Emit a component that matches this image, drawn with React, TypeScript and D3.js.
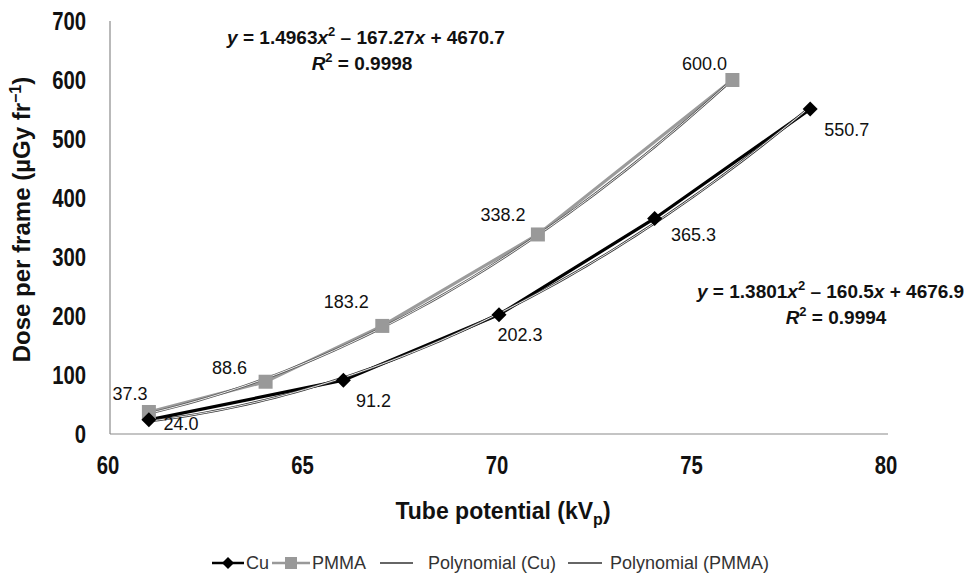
import React from 'react';
import * as d3 from 'd3';

// Tube potential (kVp) and dose per frame values
const cuKv = [61, 66, 70, 74, 78];
const cuDose = [24.0, 91.2, 202.3, 365.3, 550.7];
const pmmaKv = [61, 64, 67, 71, 76];
const pmmaDose = [37.3, 88.6, 183.2, 338.2, 600.0];

// second order fits shown on the chart: [a, b, c] for y = a x^2 + b x + c
const cuFit = [1.3801, -160.5, 4676.9];
const pmmaFit = [1.4963, -167.27, 4670.7];

const xTicks = [60, 65, 70, 75, 80];
const yTicks = [0, 100, 200, 300, 400, 500, 600, 700];

const W = 972;
const H = 576;
const margin = { top: 21, right: 84, bottom: 142, left: 110 };

const fitPoints = (coef: number[], kv: number[]) => {
  const lo = d3.min(kv) as number;
  const hi = d3.max(kv) as number;
  return d3.range(lo, hi + 0.001, 0.25).map((k) => [k, coef[0] * k * k + coef[1] * k + coef[2]]);
};

const App = () => {
  const x = d3.scaleLinear().domain([60, 80]).range([margin.left, W - margin.right]);
  const y = d3.scaleLinear().domain([0, 700]).range([H - margin.bottom, margin.top]);

  const line = d3.line<number[]>().x((d) => x(d[0])).y((d) => y(d[1]));

  const cu = cuKv.map((k, i) => [k, cuDose[i]]);
  const pmma = pmmaKv.map((k, i) => [k, pmmaDose[i]]);
  const cuTrend = fitPoints(cuFit, cuKv);
  const pmmaTrend = fitPoints(pmmaFit, pmmaKv);

  const font = "'Liberation Sans', Arial, sans-serif";

  // label offsets relative to each point
  const cuOff = [[32, 4], [30, 20], [21, 20], [39, 16], [14, 20]];
  const pmmaOff = [[-19, -18], [-36, -14], [-36, -24], [-35, -20], [-28, -16]];

  const diamond = (cx: number, cy: number, s = 7.5) =>
    `M${cx},${cy - s}L${cx + s},${cy}L${cx},${cy + s}L${cx - s},${cy}Z`;

  const y0 = y(0);
  const legY = 563;

  return (
    <svg width={W} height={H} style={{ position: 'absolute', left: 0, top: 0, background: '#fff' }}>
      {/* axes */}
      <line x1={x(60)} x2={x(60)} y1={y(700)} y2={y0} stroke="#8a8a8a" strokeWidth={1.2} />
      <line x1={x(60)} x2={x(80)} y1={y0} y2={y0} stroke="#8a8a8a" strokeWidth={1.2} />

      {/* tick labels, condensed bold */}
      <g fontFamily={font} fontWeight="bold" fontSize={26} fill="#111">
        {yTicks.map((t) => (
          <text key={t} transform={`translate(${x(60) - 24},${y(t)}) scale(0.78,1)`} dy="0.36em" textAnchor="end">{t}</text>
        ))}
        {xTicks.map((t) => (
          <text key={t} transform={`translate(${x(t) - 2},${y0 + 31}) scale(0.78,1)`} dy="0.36em" textAnchor="middle">{t}</text>
        ))}
      </g>

      {/* axis titles */}
      <text transform={`translate(30,${(y(700) + y0) / 2 - 8}) rotate(-90)`} textAnchor="middle"
        fontFamily={font} fontWeight="bold" fontSize={24} fill="#111">
        Dose per frame (µGy fr<tspan dy="-9" fontSize={16}>−1</tspan><tspan dy="9">)</tspan>
      </text>
      <text x={503} y={519} textAnchor="middle"
        fontFamily={font} fontWeight="bold" fontSize={23} fill="#111">
        Tube potential (kV<tspan dy="6" fontSize={16}>p</tspan><tspan dy="-6">)</tspan>
      </text>

      {/* data series */}
      <path d={line(pmma) as string} fill="none" stroke="#9b9b9b" strokeWidth={3.2} />
      <path d={line(cu) as string} fill="none" stroke="#000" strokeWidth={3.2} />

      {/* polynomial trendlines */}
      <path d={line(pmmaTrend) as string} fill="none" stroke="#555" strokeWidth={2.4} />
      <path d={line(pmmaTrend) as string} fill="none" stroke="#fff" strokeWidth={0.9} />
      <path d={line(cuTrend) as string} fill="none" stroke="#333" strokeWidth={2.4} />
      <path d={line(cuTrend) as string} fill="none" stroke="#fff" strokeWidth={0.9} />

      {pmma.map((d, i) => (
        <rect key={i} x={x(d[0]) - 7} y={y(d[1]) - 7} width={14} height={14} fill="#999" />
      ))}
      {cu.map((d, i) => (
        <path key={i} d={diamond(x(d[0]), y(d[1]))} fill="#000" />
      ))}

      {/* value labels */}
      {pmma.map((d, i) => (
        <text key={i} x={x(d[0]) + pmmaOff[i][0]} y={y(d[1]) + pmmaOff[i][1]} dy="0.36em" textAnchor="middle"
          fontFamily={font} fontSize={18} fill="#111">{d[1].toFixed(1)}</text>
      ))}
      {cu.map((d, i) => (
        <text key={i} x={x(d[0]) + cuOff[i][0]} y={y(d[1]) + cuOff[i][1]} dy="0.36em"
          textAnchor={i === 4 ? 'start' : 'middle'}
          fontFamily={font} fontSize={18} fill="#111">{d[1].toFixed(1)}</text>
      ))}

      {/* equations */}
      <g fontFamily={font} fontSize={19} fontWeight="bold" fill="#111">
        <text x={366} y={44} textAnchor="middle">
          <tspan fontStyle="italic">y</tspan> = 1.4963<tspan fontStyle="italic">x</tspan>
          <tspan dy="-8" fontSize={13}>2</tspan><tspan dy="8"> – 167.27</tspan>
          <tspan fontStyle="italic">x</tspan> + 4670.7
        </text>
        <text x={362} y={70} textAnchor="middle">
          <tspan fontStyle="italic">R</tspan><tspan dy="-8" fontSize={13}>2</tspan><tspan dy="8"> = 0.9998</tspan>
        </text>
        <text x={697} y={298} textAnchor="start">
          <tspan fontStyle="italic">y</tspan> = 1.3801<tspan fontStyle="italic">x</tspan>
          <tspan dy="-8" fontSize={13}>2</tspan><tspan dy="8"> – 160.5</tspan>
          <tspan fontStyle="italic">x</tspan> + 4676.9
        </text>
        <text x={836} y={324} textAnchor="middle">
          <tspan fontStyle="italic">R</tspan><tspan dy="-8" fontSize={13}>2</tspan><tspan dy="8"> = 0.9994</tspan>
        </text>
      </g>

      {/* legend */}
      <g fontFamily={font} fontSize={18} fill="#333">
        <line x1={212} x2={244} y1={legY} y2={legY} stroke="#000" strokeWidth={2.5} />
        <path d={diamond(228, legY, 6)} fill="#000" />
        <text x={246} y={legY} dy="0.36em">Cu</text>
        <line x1={272} x2={310} y1={legY} y2={legY} stroke="#999" strokeWidth={2.5} />
        <rect x={285} y={legY - 6} width={12} height={12} fill="#999" />
        <text x={312} y={legY} dy="0.36em">PMMA</text>
        <line x1={380} x2={413} y1={legY} y2={legY} stroke="#333" strokeWidth={1.6} />
        <text x={428} y={legY} dy="0.36em">Polynomial (Cu)</text>
        <line x1={568} x2={602} y1={legY} y2={legY} stroke="#333" strokeWidth={1.6} />
        <text x={610} y={legY} dy="0.36em">Polynomial  (PMMA)</text>
      </g>
    </svg>
  );
};

export default App;
